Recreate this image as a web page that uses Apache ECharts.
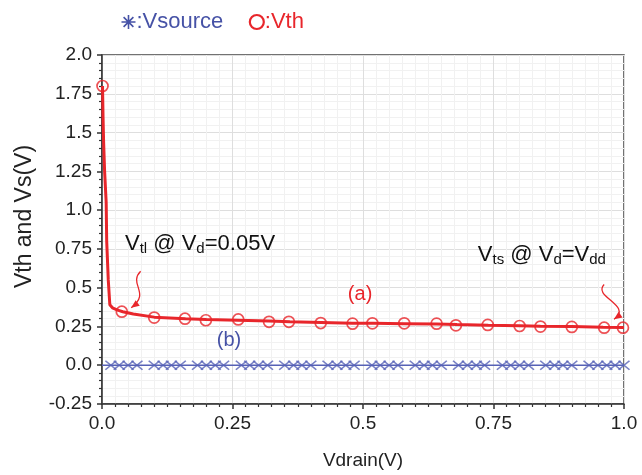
<!DOCTYPE html>
<html><head><meta charset="utf-8">
<script src="https://cdn.jsdelivr.net/npm/echarts@6/dist/echarts.min.js"></script>
<style>html,body{margin:0;padding:0;background:#fff}#c{width:642px;height:475px}</style>
</head><body><div id="c"></div>
<script>
// ---- data ----
var vthLineX = [0.001,0.002,0.003,0.005,0.008,0.009,0.012,0.015,0.02,0.03,0.04,0.06,0.1,0.16,0.2,0.26,0.32,0.36,0.42,0.48,0.52,0.58,0.64,0.68,0.74,0.8,0.84,0.9,0.96,1.0];
var vthLineY = [1.80,1.60,1.45,1.25,1.05,0.80,0.55,0.39,0.37,0.355,0.345,0.33,0.31,0.30,0.295,0.29,0.285,0.28,0.275,0.27,0.27,0.268,0.265,0.262,0.258,0.255,0.252,0.25,0.245,0.243];
var vthMarkX = [0.001,0.038,0.10,0.159,0.199,0.261,0.32,0.358,0.419,0.48,0.518,0.579,0.641,0.678,0.739,0.80,0.84,0.90,0.962,0.998];
var vthMarkY = [1.80,0.345,0.307,0.30,0.29,0.295,0.28,0.28,0.272,0.268,0.27,0.27,0.268,0.257,0.26,0.253,0.249,0.247,0.242,0.242];
var vsLineX = [0.0,1.0];
var vsLineY = [0.0,0.0];
var vsMarkX = [0.017,0.033,0.05,0.067, 0.1,0.117,0.133,0.15, 0.183,0.2,0.217,0.233, 0.267,0.283,0.3,0.317,
               0.35,0.367,0.383,0.4, 0.433,0.45,0.467,0.483, 0.517,0.533,0.55,0.567, 0.6,0.617,0.633,0.65,
               0.683,0.7,0.717,0.733, 0.767,0.783,0.8,0.817, 0.85,0.867,0.883,0.9, 0.933,0.95,0.967,0.983,1.0];
var vsMarkY = [0,0,0,0, 0,0,0,0, 0,0,0,0, 0,0,0,0, 0,0,0,0, 0,0,0,0, 0,0,0,0, 0,0,0,0, 0,0,0,0, 0,0,0,0, 0,0,0,0, 0,0,0,0,0];
var xTickValues = [0,0.25,0.5,0.75,1.0];
var xTickLabels = ['0.0','0.25','0.5','0.75','1.0'];
var yTickValues = [2.0,1.75,1.5,1.25,1.0,0.75,0.5,0.25,0.0,-0.25];
var yTickLabels = ['2.0','1.75','1.5','1.25','1.0','0.75','0.5','0.25','0.0','-0.25'];
var seriesNames = ['Vsource','Vth'];
// ---- style ----
var RED = '#e8262b', BLUE = '#4652a6', BLUEM = '#5661b6';
var FONT = 'Liberation Sans, Arial, sans-serif';
function zip(a,b){return a.map(function(v,i){return [v,b[i]];});}
function lbl(vals,labs){return function(v){for(var i=0;i<vals.length;i++){if(Math.abs(vals[i]-v)<1e-9)return labs[i];}return '';};}
var asterisk = 'path://M5,0L5,10M0,5L10,5M1.5,1.5L8.5,8.5M8.5,1.5L1.5,8.5';
var ring = 'path://M10,5A5,5,0,1,1,0,5A5,5,0,1,1,10,5Z';
var cross = 'path://M0,0L10,10M10,0L0,10';
var chart = echarts.init(document.getElementById('c'), null, {renderer:'canvas'});
var option = {
  animation:false,
  backgroundColor:'#fff',
  textStyle:{fontFamily:FONT},
  legend:{
    top:6, left:114, itemGap:24, itemWidth:14, itemHeight:14,
    formatter:':{name}',
    textStyle:{fontSize:22, fontFamily:FONT, padding:[0,0,0,-4]},
    data:[
      {name:seriesNames[0], icon:asterisk, itemStyle:{color:'none', borderColor:BLUE, borderWidth:1.6}, textStyle:{color:BLUE}},
      {name:seriesNames[1], icon:ring, itemStyle:{color:'none', borderColor:RED, borderWidth:2.2}, textStyle:{color:RED}}
    ]
  },
  grid:{left:102, right:18, top:55, bottom:70, show:true, borderColor:'#444', borderWidth:1.5, backgroundColor:'transparent'},
  xAxis:{
    type:'value', min:0, max:1, interval:0.25,
    name:'Vdrain(V)', nameLocation:'middle', nameGap:47,
    nameTextStyle:{fontSize:19, color:'#222', fontFamily:FONT},
    axisLine:{show:true, onZero:false, lineStyle:{color:'#333', width:1.5}},
    axisTick:{show:true, length:5, lineStyle:{color:'#333', width:1.5}},
    minorTick:{show:true, splitNumber:10, length:3, lineStyle:{color:'#333', width:1.2}},
    axisLabel:{fontSize:19, color:'#222', margin:10, fontFamily:FONT, formatter:lbl(xTickValues,xTickLabels)},
    splitLine:{show:true, lineStyle:{color:'#dedede', width:1}},
    minorSplitLine:{show:true, lineStyle:{color:'#f1f1f1', width:1}}
  },
  yAxis:{
    type:'value', min:-0.25, max:2.0, interval:0.25,
    name:'Vth and Vs(V)', nameLocation:'middle', nameGap:66,
    nameTextStyle:{fontSize:23, color:'#222', fontFamily:FONT, padding:[0,0,0,26]},
    axisLine:{show:true, onZero:false, lineStyle:{color:'#333', width:1.5}},
    axisTick:{show:true, length:5, lineStyle:{color:'#333', width:1.5}},
    minorTick:{show:true, splitNumber:5, length:3, lineStyle:{color:'#333', width:1.2}},
    axisLabel:{fontSize:19, color:'#222', margin:10, fontFamily:FONT, formatter:lbl(yTickValues,yTickLabels)},
    splitLine:{show:true, lineStyle:{color:'#dedede', width:1}},
    minorSplitLine:{show:true, lineStyle:{color:'#f1f1f1', width:1}}
  },
  series:[
    {name:seriesNames[0], type:'line', data:zip(vsLineX,vsLineY), symbol:'none', lineStyle:{color:BLUEM, width:1.5}, itemStyle:{color:BLUEM}, z:2},
    {name:seriesNames[0], type:'scatter', data:zip(vsMarkX,vsMarkY), symbol:cross, symbolSize:[11,9],
     itemStyle:{color:'none', borderColor:BLUEM, borderWidth:1.5}, z:3},
    {name:seriesNames[1], type:'line', data:zip(vthLineX,vthLineY), symbol:'none', lineStyle:{color:RED, width:3}, itemStyle:{color:RED}, z:4},
    {name:seriesNames[1], type:'scatter', data:zip(vthMarkX,vthMarkY), symbol:'circle', symbolSize:11,
     itemStyle:{color:'rgba(255,255,255,0)', borderColor:RED, borderWidth:1.7}, z:5}
  ]
};
chart.setOption(option);
function P(x,y){return chart.convertToPixel({gridIndex:0},[x,y]);}
// annotation anchors in data coordinates
var t1 = P(0.044,0.765), t2 = P(0.72,0.69), ta = P(0.471,0.44), tb = P(0.22,0.145);
var a1s = P(0.074,0.606), a1e = P(0.056,0.371), a2s = P(0.962,0.52), a2e = P(0.981,0.296);
function squiggle(s,e){
  var dy=e[1]-s[1];
  return {type:'bezierCurve', shape:{x1:s[0],y1:s[1],cpx1:s[0]-dy*0.35,cpy1:s[1]+dy*0.35,cpx2:e[0]+dy*0.55,cpy2:s[1]+dy*0.6,x2:e[0],y2:e[1]},
    style:{stroke:RED,lineWidth:1.3,fill:null}, z:10};
}
function head(e,c2){
  var ang=Math.atan2(e[1]-c2[1], e[0]-c2[0]), L=8, W=3.5;
  var bx=e[0]-L*Math.cos(ang), by=e[1]-L*Math.sin(ang);
  var px=-Math.sin(ang)*W, py=Math.cos(ang)*W;
  return {type:'polygon', shape:{points:[[e[0],e[1]],[bx+px,by+py],[bx-px,by-py]]}, style:{fill:RED}, z:11};
}
var s1=squiggle(a1s,a1e), s2=squiggle(a2s,a2e);
var rich = {n:{fontSize:22,fill:'#111',fontFamily:FONT}, s:{fontSize:15,fill:'#111',fontFamily:FONT, padding:[10,0,0,0]}};
chart.setOption({graphic:[
  {type:'text', left:t1[0], top:t1[1]-14, style:{text:'{n|V}{s|tl}{n| @ V}{s|d}{n|=0.05V}', rich:rich}, z:12},
  {type:'text', left:t2[0], top:t2[1]-14, style:{text:'{n|V}{s|ts}{n| @ V}{s|d}{n|=V}{s|dd}', rich:rich}, z:12},
  {type:'text', left:ta[0], top:ta[1]-12, style:{text:'(a)', fontSize:20, fill:RED, fontFamily:FONT}, z:12},
  {type:'text', left:tb[0], top:tb[1]-12, style:{text:'(b)', fontSize:20, fill:BLUE, fontFamily:FONT}, z:12},
  s1, head(a1e,[s1.shape.cpx2,s1.shape.cpy2]),
  s2, head(a2e,[s2.shape.cpx2,s2.shape.cpy2])
]});
</script></body></html>
